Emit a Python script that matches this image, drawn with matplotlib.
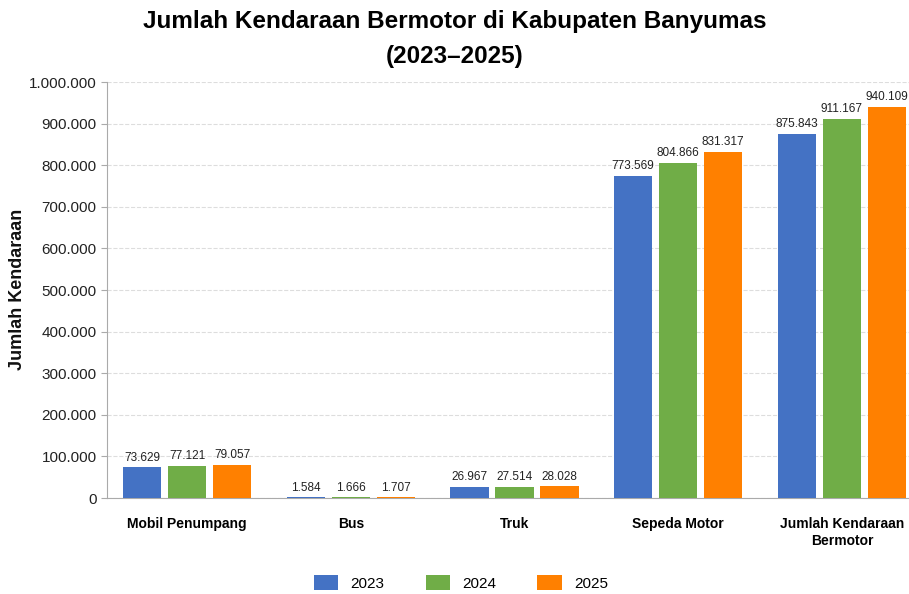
import matplotlib.pyplot as plt
import numpy as np
from matplotlib.ticker import FuncFormatter

plt.rcParams['font.family'] = ['Liberation Sans', 'DejaVu Sans']

categories = ['Mobil Penumpang', 'Bus', 'Truk', 'Sepeda Motor', 'Jumlah Kendaraan\nBermotor']
years = ['2023', '2024', '2025']
v2023 = [73629, 1584, 26967, 773569, 875843]
v2024 = [77121, 1666, 27514, 804866, 911167]
v2025 = [79057, 1707, 28028, 831317, 940109]
colors = ['#4472C4', '#70AD47', '#FF8000']


def dots(v, pos=None):
    return f'{int(v):,}'.replace(',', '.')


fig = plt.figure(figsize=(9.09, 5.94), dpi=100)
ax = fig.add_axes([107/909, 1 - 498/594, 1 - 107/909, (498 - 82)/594])

x = np.arange(len(categories))
w = 0.235
off = 0.275
for i, (vals, yr) in enumerate(zip([v2023, v2024, v2025], years)):
    bars = ax.bar(x + (i - 1)*off, vals, w, color=colors[i], label=yr, zorder=3)
    for b, v in zip(bars, vals):
        ax.text(b.get_x() + b.get_width()/2, v + 9000, dots(v), ha='center', va='bottom',
                fontsize=8.5, color='#222222', clip_on=False)

ax.set_xlim(-0.49, 4.41)
ax.set_ylim(0, 1000000)
ax.set_yticks(np.arange(0, 1000001, 100000))
ax.yaxis.set_major_formatter(FuncFormatter(dots))
ax.tick_params(axis='y', labelsize=11, length=4, color='#aaaaaa', labelcolor='#222222')
ax.set_xticks(x)
ax.set_xticklabels(categories, fontweight='bold', fontsize=10)
ax.tick_params(axis='x', length=0, pad=14)
ax.grid(axis='y', color='#dddddd', linestyle='--', linewidth=0.8, zorder=0)
for s in ['top', 'right']:
    ax.spines[s].set_visible(False)
ax.spines['left'].set_color('#aaaaaa')
ax.spines['bottom'].set_color('#aaaaaa')

fig.text(18/909, 1 - 289/594, 'Jumlah Kendaraan', rotation=90, ha='center', va='center',
         fontweight='bold', fontsize=13, color='#111111')

fig.text(0.5, 1 - 39/594, 'Jumlah Kendaraan Bermotor di Kabupaten Banyumas\n(2023–2025)',
         ha='center', va='center', fontweight='bold', fontsize=17.5, linespacing=1.7)

fig.legend(loc='center', bbox_to_anchor=(0.507, 1 - 583/594), ncol=3, frameon=False,
           fontsize=11, handlelength=1.6, handleheight=1.1, handletextpad=0.8,
           columnspacing=2.7)

fig.savefig('out.png', dpi=100)
